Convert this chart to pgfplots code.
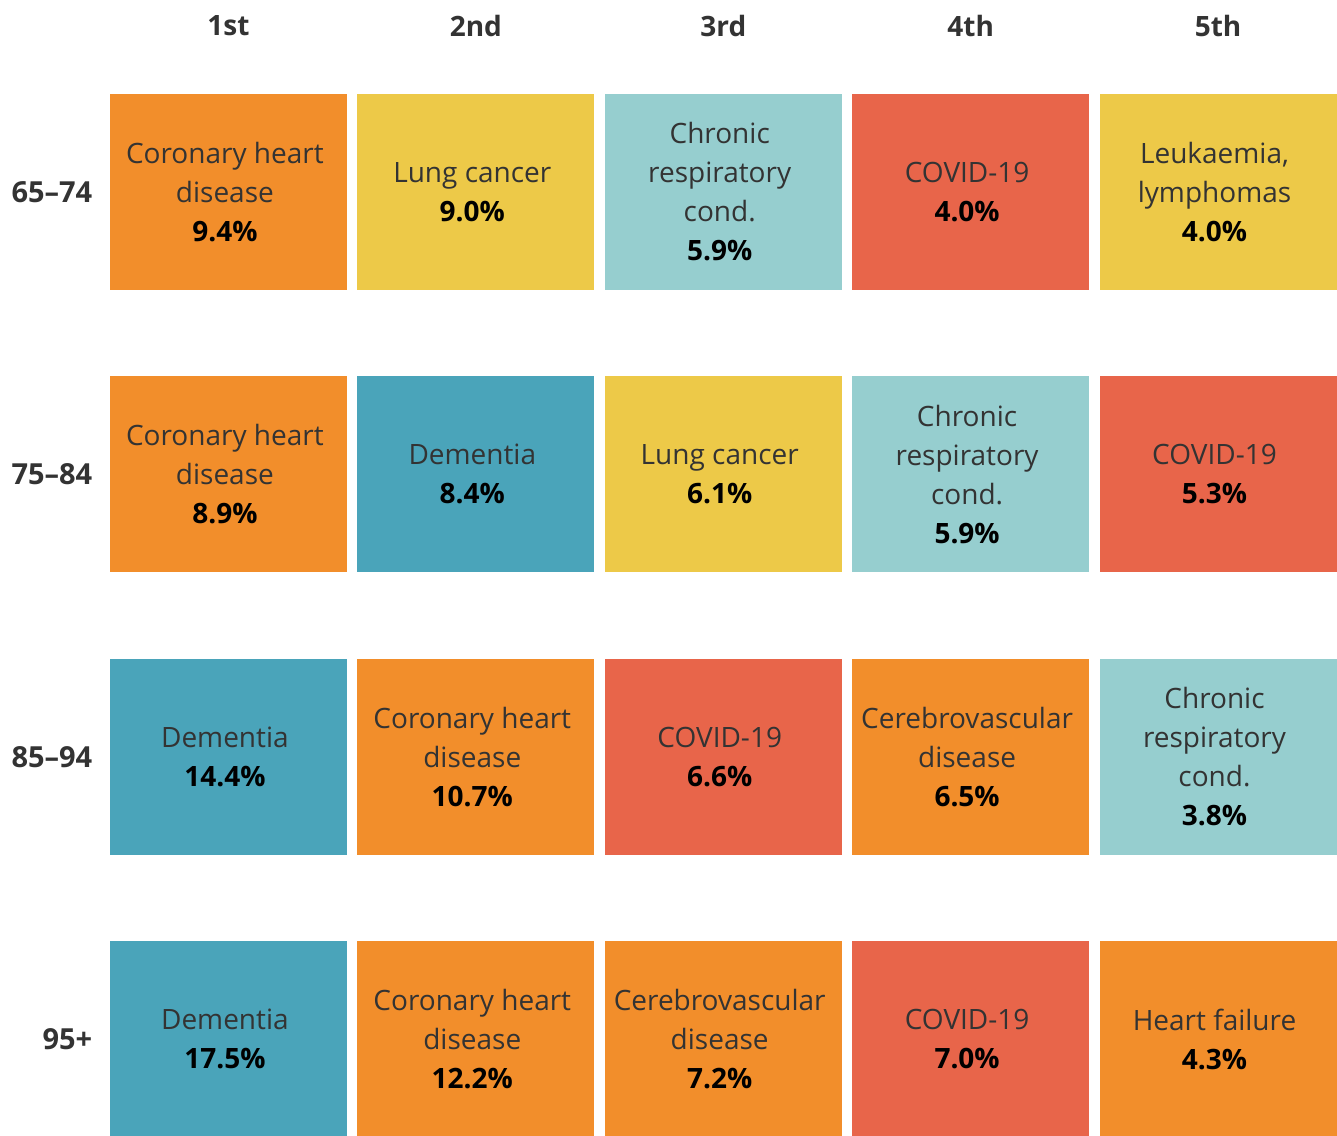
\documentclass[border=0pt]{standalone}
\usepackage{fontspec}
\setmainfont{Open Sans}
\usepackage{pgfplots}
\pgfplotsset{compat=1.18}
\definecolor{cOr}{HTML}{F28E2B}
\definecolor{cYe}{HTML}{EDC948}
\definecolor{cLt}{HTML}{96CECF}
\definecolor{cRd}{HTML}{E8654A}
\definecolor{cTl}{HTML}{4AA4BA}
\definecolor{txt}{HTML}{333333}
\newcommand\cell[4]{\node[align=center, inner sep=0pt, xshift=-1.8pt, font=\fontsize{14}{19.5}\selectfont, text=txt] at (axis cs:#1,#2) {#3\\\textbf{\color{black}#4}};}
\newcommand\tile[5]{\addplot[fill=#5, draw=none] coordinates {(#1,#3) (#2,#3) (#2,#4) (#1,#4)} --cycle;}
\newcommand\hdr[2]{\node[font=\fontsize{14}{16}\selectfont\bfseries, text=txt] at (axis cs:#1,-0.588) {#2};}
\newcommand\rlab[2]{\node[anchor=east, inner sep=0pt, font=\fontsize{14.5}{16}\selectfont\bfseries, text=txt] at (axis cs:-0.549,#1) {#2};}
\begin{document}
\begin{tikzpicture}
\begin{axis}[
  width=668.5pt, height=567.5pt, scale only axis,
  xmin=-0.9236, xmax=4.4806, ymin=-0.680, ymax=3.340,
  y dir=reverse, hide axis, clip=true,
]
% row 0: 65-74
\tile{-0.479}{0.479}{-0.347}{0.347}{cOr}
\tile{0.521}{1.479}{-0.347}{0.347}{cYe}
\tile{1.521}{2.479}{-0.347}{0.347}{cLt}
\tile{2.521}{3.479}{-0.347}{0.347}{cRd}
\tile{3.521}{4.479}{-0.347}{0.347}{cYe}
% row 1: 75-84
\tile{-0.479}{0.479}{0.653}{1.347}{cOr}
\tile{0.521}{1.479}{0.653}{1.347}{cTl}
\tile{1.521}{2.479}{0.653}{1.347}{cYe}
\tile{2.521}{3.479}{0.653}{1.347}{cLt}
\tile{3.521}{4.479}{0.653}{1.347}{cRd}
% row 2: 85-94
\tile{-0.479}{0.479}{1.653}{2.347}{cTl}
\tile{0.521}{1.479}{1.653}{2.347}{cOr}
\tile{1.521}{2.479}{1.653}{2.347}{cRd}
\tile{2.521}{3.479}{1.653}{2.347}{cOr}
\tile{3.521}{4.479}{1.653}{2.347}{cLt}
% row 3: 95+
\tile{-0.479}{0.479}{2.653}{3.347}{cTl}
\tile{0.521}{1.479}{2.653}{3.347}{cOr}
\tile{1.521}{2.479}{2.653}{3.347}{cOr}
\tile{2.521}{3.479}{2.653}{3.347}{cRd}
\tile{3.521}{4.479}{2.653}{3.347}{cOr}
\draw[draw=none] (rel axis cs:0,0) rectangle (rel axis cs:1,1);
% text
\cell{0}{0}{Coronary heart\\disease}{9.4\%}
\cell{1}{0}{Lung cancer}{9.0\%}
\cell{2}{0}{Chronic\\respiratory\\cond.}{5.9\%}
\cell{3}{0}{COVID-19}{4.0\%}
\cell{4}{0}{Leukaemia,\\lymphomas}{4.0\%}
\cell{0}{1}{Coronary heart\\disease}{8.9\%}
\cell{1}{1}{Dementia}{8.4\%}
\cell{2}{1}{Lung cancer}{6.1\%}
\cell{3}{1}{Chronic\\respiratory\\cond.}{5.9\%}
\cell{4}{1}{COVID-19}{5.3\%}
\cell{0}{2}{Dementia}{14.4\%}
\cell{1}{2}{Coronary heart\\disease}{10.7\%}
\cell{2}{2}{COVID-19}{6.6\%}
\cell{3}{2}{Cerebrovascular\\disease}{6.5\%}
\cell{4}{2}{Chronic\\respiratory\\cond.}{3.8\%}
\cell{0}{3}{Dementia}{17.5\%}
\cell{1}{3}{Coronary heart\\disease}{12.2\%}
\cell{2}{3}{Cerebrovascular\\disease}{7.2\%}
\cell{3}{3}{COVID-19}{7.0\%}
\cell{4}{3}{Heart failure}{4.3\%}
% headers
\hdr{0}{1st}\hdr{1}{2nd}\hdr{2}{3rd}\hdr{3}{4th}\hdr{4}{5th}
\rlab{0}{65–74}\rlab{1}{75–84}\rlab{2}{85–94}\rlab{3}{95+}
\end{axis}
\end{tikzpicture}
\end{document}
